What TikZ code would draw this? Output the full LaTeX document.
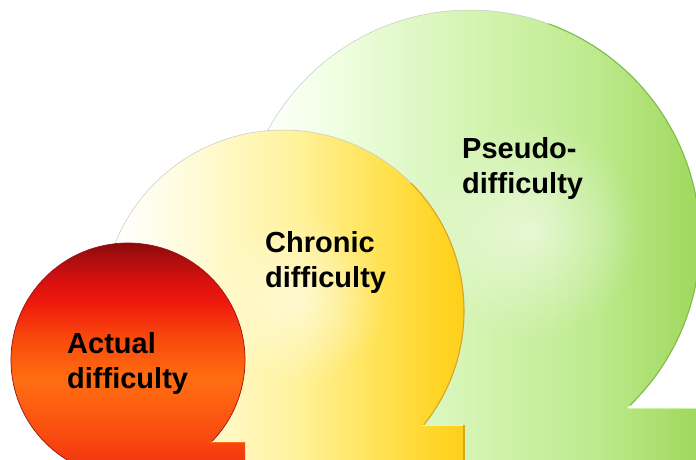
\documentclass[tikz,border=0pt]{standalone}
\usepackage{fontspec}
\setsansfont{Liberation Sans}
\usetikzlibrary{positioning, fadings}

\definecolor{gA}{HTML}{F0FFE2}
\definecolor{gB}{HTML}{E2F9CC}
\definecolor{gC}{HTML}{CFF2AA}
\definecolor{gD}{HTML}{BCEA8C}
\definecolor{gE}{HTML}{A2D960}
\definecolor{gEdge}{HTML}{7DBE45}
\definecolor{yA}{HTML}{FFFBD6}
\definecolor{yB}{HTML}{FFF29A}
\definecolor{yC}{HTML}{FFE355}
\definecolor{yD}{HTML}{FFD628}
\definecolor{yE}{HTML}{FFD01C}
\definecolor{yEdge}{HTML}{D9A61C}
\definecolor{rA}{HTML}{8A0A0A}
\definecolor{rB}{HTML}{A80E0E}
\definecolor{rC}{HTML}{D81010}
\definecolor{rD}{HTML}{F01A0C}
\definecolor{rE}{HTML}{F8480C}
\definecolor{rF}{HTML}{FF6E12}
\definecolor{rG}{HTML}{FA4C10}
\definecolor{rH}{HTML}{EE2E10}
\definecolor{rEdge}{HTML}{9E1010}

\pgfdeclarehorizontalshading{greenfade}{100bp}{color(0bp)=(white); color(27bp)=(white);
  color(35bp)=(gA); color(42bp)=(gB); color(53bp)=(gC); color(64bp)=(gD);
  color(74bp)=(gE); color(100bp)=(gE)}
\pgfdeclarehorizontalshading{yellowfade}{100bp}{color(0bp)=(white); color(27bp)=(white);
  color(38bp)=(yA); color(52bp)=(yB); color(63bp)=(yC); color(71bp)=(yD);
  color(75bp)=(yE); color(100bp)=(yE)}
\pgfdeclareverticalshading{redball}{100bp}{color(0bp)=(rH); color(26bp)=(rH);
  color(34bp)=(rG); color(46bp)=(rF); color(55bp)=(rE); color(62bp)=(rD);
  color(67bp)=(rC); color(72bp)=(rB); color(75bp)=(rA); color(100bp)=(rA)}

\tikzfading[name=softglow, inner color=transparent!45, outer color=transparent!100]

\begin{document}
\begin{tikzpicture}[
  x=1pt, y=-1pt,
  lbl/.style={inner sep=0pt, anchor=base west, align=left,
              font=\sffamily\bfseries\fontsize{29}{35}\selectfont},
  rim/.style={draw=black!22, line width=0.5pt},
  edge/.style={line width=1.1pt},
  glow/.style={fill=white, path fading=softglow},
  shelf/.style={line width=1.2pt},
]
\useasboundingbox (0,0) rectangle (696,459);
\clip (0,0) rectangle (696,459);

% ── Circle centres and radii (pixels) ──────────────────────────────
\def\gx{470}\def\gy{240}\def\gr{230}
\def\yx{283}\def\yy{311}\def\yr{181}
\def\rx{128}\def\ry{360}\def\rr{117}

% ── Pseudo-difficulty (back) ───────────────────────────────────────
\begin{scope}
  \clip (\gx,408) rectangle (700,470);
  \shade[shading=greenfade] (\gx-\gr,\gy-\gr) rectangle (\gx+\gr,\gy+\gr);
\end{scope}
\shade[shading=greenfade] (\gx,\gy) circle (\gr);
\fill[glow] (530,230) circle (110);
\draw[rim] ([shift={(90:\gr)}]\gx,\gy) arc (90:406:\gr);
\draw[edge, draw=gEdge] ([shift={(-70:\gr)}]\gx,\gy) arc (-70:46:\gr);
\draw[shelf, draw=gC] (628,408.5) -- (700,408.5);

% ── Chronic difficulty (middle) ────────────────────────────────────
\begin{scope}
  \clip (\yx,425) rectangle (464,470);
  \shade[shading=yellowfade] (\yx-\yr,\yy-\yr) rectangle (\yx+\yr,\yy+\yr);
\end{scope}
\shade[shading=yellowfade] (\yx,\yy) circle (\yr);
\fill[glow] (300,300) circle (85);
\draw[rim] ([shift={(90:\yr)}]\yx,\yy) arc (90:399:\yr);
\draw[edge, draw=yEdge] ([shift={(-45:\yr)}]\yx,\yy) arc (-45:39:\yr);
\draw[edge, draw=yEdge] (464,425) -- (464,470);
\draw[shelf, draw=yB] (422,425.5) -- (463,425.5);

% ── Actual difficulty (front) ──────────────────────────────────────
\begin{scope}
  \clip (\rx,442) rectangle (245,470);
  \shade[shading=redball] (\rx-\rr,\ry-\rr) rectangle (\rx+\rr,\ry+\rr);
\end{scope}
\shade[shading=redball] (\rx,\ry) circle (\rr);
\draw[line width=0.7pt, draw=rEdge] ([shift={(90:\rr)}]\rx,\ry) arc (90:404:\rr);
\draw[shelf, draw=rF] (210,442.5) -- (245,442.5);

% ── Labels ─────────────────────────────────────────────────────────
\node[lbl] (actual)  at (67,388)  {Actual\\difficulty};
\node[lbl] (chronic) at (265,287) {Chronic\\difficulty};
\node[lbl] (pseudo)  at (462,193) {Pseudo-\\difficulty};

\end{tikzpicture}
\end{document}
